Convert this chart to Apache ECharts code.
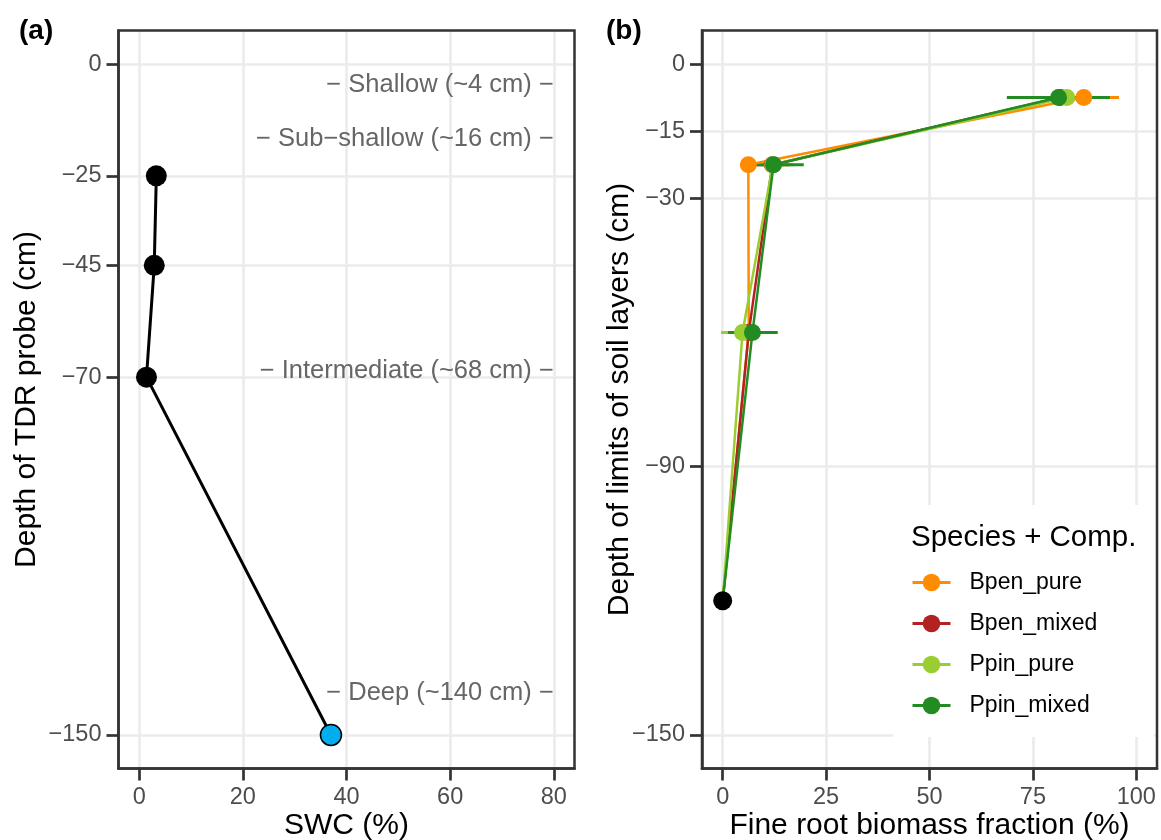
<!DOCTYPE html>
<html><head><meta charset="utf-8">
<script src="https://cdn.jsdelivr.net/npm/echarts@6/dist/echarts.min.js"></script>
<style>html,body{margin:0;padding:0;background:#fff}#c{width:1161px;height:840px}</style>
</head><body><div id="c"></div>
<script>
// ---------- Panel (a) data ----------
const swcDepth = [-25, -45, -70, -150];
const swcValue = [3.3, 2.9, 1.4, 37];
const swcXTicks = [0, 20, 40, 60, 80];
const swcYTicks = [0, -25, -45, -70, -150];
const probeLabels = ['\u2212 Shallow (~4 cm) \u2212', '\u2212 Sub\u2212shallow (~16 cm) \u2212', '\u2212 Intermediate (~68 cm) \u2212', '\u2212 Deep (~140 cm) \u2212'];
const probeLabelDepth = [-4, -16, -68, -140];
const probeLabelX = 80;

// ---------- Panel (b) data ----------
const groups = ['Bpen_pure', 'Bpen_mixed', 'Ppin_pure', 'Ppin_mixed'];
const groupColors = ['#FF8C00', '#B22222', '#9ACD32', '#228B22'];
const layerDepth = [-7.5, -22.5, -60];
const bottomDepth = -120;
const bottomValue = 0;
const bpenPureMean = [87.3, 6.2, 6.3];
const bpenPureLo = [79, 4.5, 2];
const bpenPureHi = [95.8, 8, 13.4];
const bpenMixedMean = [81.6, 12, 6.3];
const bpenMixedLo = [72, 8, 2];
const bpenMixedHi = [91, 16, 12];
const ppinPureMean = [83.2, 12.1, 4.8];
const ppinPureLo = [74, 9, -0.4];
const ppinPureHi = [92, 17, 10];
const ppinMixedMean = [81.2, 12.3, 7.2];
const ppinMixedLo = [68.7, 4.4, 1.3];
const ppinMixedHi = [93.6, 19.6, 13.2];
const rootXTicks = [0, 25, 50, 75, 100];
const rootYTicks = [0, -15, -30, -90, -150];

const means = [bpenPureMean, bpenMixedMean, ppinPureMean, ppinMixedMean];
const los = [bpenPureLo, bpenMixedLo, ppinPureLo, ppinMixedLo];
const his = [bpenPureHi, bpenMixedHi, ppinPureHi, ppinMixedHi];

const FONT = 'Liberation Sans, Arial, sans-serif';
const fmt = v => (v < 0 ? '\u2212' + Math.abs(v) : String(v));

function axisCommon(gridIndex, min, max, ticks, isY, name, nameGap) {
  return {
    type: 'value', gridIndex, min, max,
    name, nameLocation: 'middle', nameGap, nameMoveOverlap: false,
    nameTextStyle: { fontFamily: FONT, fontSize: 30, color: '#000' },
    axisLine: { show: true, onZero: false, lineStyle: { color: '#333', width: 2.5 } },
    axisTick: { show: true, length: 12, customValues: ticks, lineStyle: { color: '#333', width: 2.7 } },
    axisLabel: { customValues: ticks, formatter: fmt, margin: 17, fontFamily: FONT, fontSize: 23.5, color: '#4D4D4D' },
    splitLine: { show: true, lineStyle: { color: '#EBEBEB', width: 2.6 } },
    minorSplitLine: { show: false }
  };
}

const series = [];
// Panel (a)
series.push({
  type: 'line', xAxisIndex: 0, yAxisIndex: 0, z: 2,
  data: swcValue.map((v, i) => {
    const item = { value: [v, swcDepth[i]] };
    if (i === swcValue.length - 1) item.itemStyle = { color: '#00AEEF', borderColor: '#000', borderWidth: 1.5 };
    return item;
  }),
  symbol: 'circle', symbolSize: 21,
  itemStyle: { color: '#000', opacity: 1 },
  lineStyle: { color: '#000', width: 3 }
});
series.push({
  type: 'custom', xAxisIndex: 0, yAxisIndex: 0, z: 3,
  data: probeLabelDepth.map(d => [probeLabelX, d]),
  encode: { x: 0, y: 1 },
  renderItem: (params, api) => {
    const c = api.coord([api.value(0), api.value(1)]);
    return { type: 'text', x: c[0], y: c[1] + 3,
      style: { text: probeLabels[params.dataIndex], align: 'right', verticalAlign: 'middle',
        fontSize: 25.5, fontFamily: FONT, fill: '#666666' } };
  }
});
// Panel (b) error bars
groups.forEach((g, gi) => {
  series.push({
    type: 'custom', name: g + ' err', xAxisIndex: 1, yAxisIndex: 1, z: 1,
    data: layerDepth.map((d, i) => [d, los[gi][i], his[gi][i]]),
    encode: { x: [1, 2], y: 0 },
    renderItem: (params, api) => {
      const y = api.value(0);
      const p1 = api.coord([api.value(1), y]);
      const p2 = api.coord([api.value(2), y]);
      return { type: 'line', shape: { x1: p1[0], y1: p1[1], x2: p2[0], y2: p2[1] },
        style: { stroke: groupColors[gi], lineWidth: 3 } };
    }
  });
});
// Panel (b) lines + points
groups.forEach((g, gi) => {
  const data = layerDepth.map((d, i) => [means[gi][i], d]);
  data.push({ value: [bottomValue, bottomDepth], symbol: 'none' });
  series.push({
    type: 'line', name: g, xAxisIndex: 1, yAxisIndex: 1, z: 2,
    data, symbol: 'circle', symbolSize: 17,
    itemStyle: { color: groupColors[gi], opacity: 1 },
    lineStyle: { color: groupColors[gi], width: 2.5 }
  });
});
series.push({
  type: 'scatter', name: 'bottom', xAxisIndex: 1, yAxisIndex: 1, z: 3,
  data: [[bottomValue, bottomDepth]], symbolSize: 19, itemStyle: { color: '#000', opacity: 1 }
});

const option = {
  animation: false,
  backgroundColor: '#fff',
  textStyle: { fontFamily: FONT },
  title: [
    { text: '(a)', left: 14, top: 12, textStyle: { fontFamily: FONT, fontSize: 28, fontWeight: 'bold', color: '#000' } },
    { text: '(b)', left: 601, top: 12, textStyle: { fontFamily: FONT, fontSize: 28, fontWeight: 'bold', color: '#000' } },
    { text: 'Species + Comp.', left: 906, top: 518, z: 6, textStyle: { fontFamily: FONT, fontSize: 29.5, fontWeight: 'normal', color: '#000' } }
  ],
  grid: [
    { left: 118.5, top: 30.5, width: 456, height: 738, show: true, borderColor: '#333', borderWidth: 2.5, z: 5, containLabel: false, outerBoundsMode: 'none' },
    { left: 702, top: 30.5, width: 455, height: 738, show: true, borderColor: '#333', borderWidth: 2.5, z: 5, containLabel: false, outerBoundsMode: 'none' }
  ],
  xAxis: [
    axisCommon(0, -4, 84, swcXTicks, false, 'SWC (%)', 42),
    axisCommon(1, -5, 105, rootXTicks, false, 'Fine root biomass fraction (%)', 42)
  ],
  yAxis: [
    axisCommon(0, -157.5, 7.5, swcYTicks, true, 'Depth of TDR probe (cm)', 77),
    axisCommon(1, -157.5, 7.5, rootYTicks, true, 'Depth of limits of soil layers (cm)', 67)
  ],
  legend: {
    data: groups, orient: 'vertical', left: 906, top: 566, z: 4,
    itemWidth: 38, itemHeight: 22, itemGap: 18, selectedMode: false,
    lineStyle: { width: 3 },
    textStyle: { fontFamily: FONT, fontSize: 23, color: '#000', lineHeight: 22, padding: [0, 0, 0, 14] }
  },
  graphic: [
    { type: 'rect', z: 3, shape: { x: 893, y: 505, width: 261, height: 232 }, style: { fill: '#fff' }, silent: true }
  ],
  series
};
const chart = echarts.init(document.getElementById('c'), null, { renderer: 'canvas' });
chart.setOption(option);
</script></body></html>
